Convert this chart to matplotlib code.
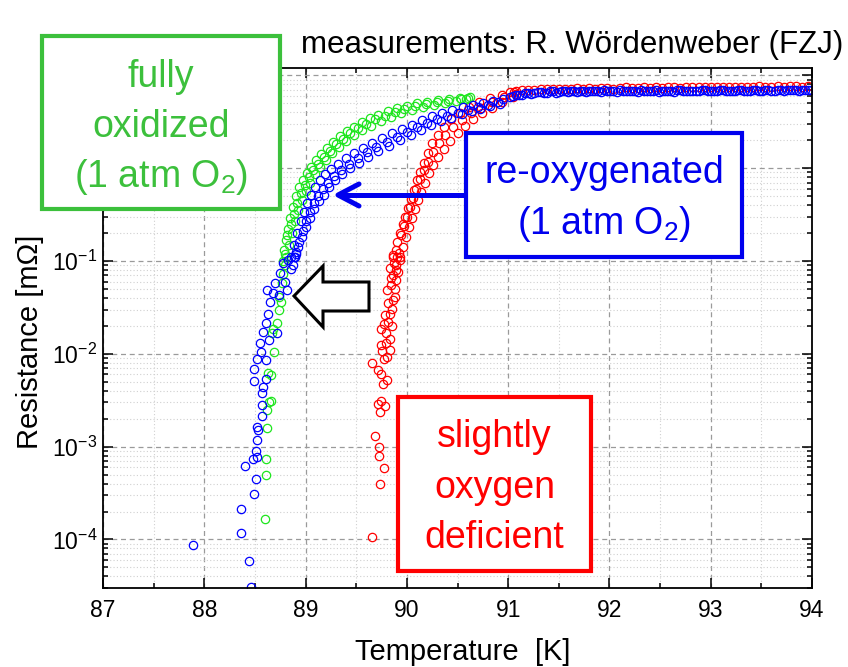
#!/usr/bin/env python3
"""
R(T) transitions: fully oxidized / re-oxygenated / slightly oxygen deficient.
"""
import math
import matplotlib
matplotlib.use("Agg")
import matplotlib.pyplot as plt
import matplotlib.ticker as mticker
from matplotlib.patches import Rectangle, Polygon
from matplotlib.lines import Line2D

W, H, DPI = 848, 667, 100

# ---- data: T [K], R [mOhm] ----
GREEN_TAIL_T = [88.60, 88.605, 88.614, 88.617, 88.62, 88.64, 88.66, 88.654, 88.63, 88.686,
                88.667, 88.68, 88.713, 88.74, 88.755, 88.74, 88.765, 88.778, 88.795, 88.78]
GREEN_TAIL_R = [1.66e-4, 5.0e-4, 7.3e-4, 1.58e-3, 2.5e-3, 3.0e-3, 3.1e-3, 5.9e-3, 6.2e-3, 1.05e-2,
                1.67e-2, 1.85e-2, 2.16e-2, 2.95e-2, 3.6e-2, 4.1e-2, 5.8e-2, 7.2e-2, 9.0e-2, 0.10]
GREEN_BAND_T = [88.79, 88.81, 88.83, 88.85, 88.88, 88.91, 88.94, 88.97, 89.01, 89.05, 89.10, 89.15,
                89.21, 89.27, 89.34, 89.41, 89.48, 89.56, 89.64, 89.72, 89.81, 89.90, 90.00, 90.10,
                90.20, 90.31, 90.42, 90.52, 90.62,
                88.81, 88.84, 88.87, 88.90, 88.93, 88.96, 89.00, 89.04, 89.09, 89.14, 89.20, 89.26,
                89.33, 89.40, 89.48, 89.56, 89.65, 89.74, 89.84, 89.94, 90.05, 90.16, 90.27, 90.38,
                90.49, 90.58,
                88.80, 88.82, 88.86, 88.89, 88.92, 88.95, 88.99, 89.03, 89.07, 89.12, 89.18, 89.24,
                89.30, 89.37, 89.44, 89.52, 89.60, 89.69, 89.78, 89.88, 89.97, 90.08, 90.19, 90.30,
                90.41, 90.53, 90.60]
GREEN_BAND_R = [0.13, 0.17, 0.22, 0.29, 0.38, 0.50, 0.62, 0.75, 0.89, 1.03, 1.22, 1.42,
                1.66, 1.92, 2.20, 2.50, 2.80, 3.12, 3.45, 3.78, 4.08, 4.40, 4.72, 4.98,
                5.18, 5.38, 5.55, 5.70, 5.82,
                0.11, 0.15, 0.20, 0.27, 0.35, 0.45, 0.57, 0.70, 0.86, 1.02, 1.22, 1.44,
                1.68, 1.95, 2.25, 2.55, 2.88, 3.22, 3.58, 3.92, 4.25, 4.55, 4.82, 5.08,
                5.30, 5.50,
                0.12, 0.19, 0.25, 0.32, 0.42, 0.54, 0.66, 0.80, 0.95, 1.12, 1.32, 1.55,
                1.80, 2.08, 2.38, 2.68, 3.00, 3.35, 3.68, 4.00, 4.32, 4.62, 4.88, 5.12,
                5.35, 5.58, 5.65]

BLUE_TAIL_T = [87.885, 88.443, 88.466, 88.361, 88.361, 88.489, 88.509, 88.40, 88.482, 88.522,
               88.509, 88.516, 88.532, 88.516, 88.565, 88.565, 88.565, 88.581, 88.489, 88.614,
               88.489, 88.522, 88.561, 88.614, 88.555, 88.581, 88.614, 88.64, 88.63, 88.647,
               88.624, 88.68, 88.696, 88.739, 88.719, 88.746, 88.795, 88.812, 88.778, 88.827,
               88.861, 88.884, 88.91]
BLUE_TAIL_R = [8.7e-5, 5.85e-5, 3.1e-5, 1.16e-4, 2.11e-4, 3.12e-4, 4.45e-4, 6.25e-4, 7.3e-4, 7.76e-4,
               9.0e-4, 1.19e-3, 1.5e-3, 1.63e-3, 2.14e-3, 2.8e-3, 3.8e-3, 4.4e-3, 5.1e-3, 5.3e-3,
               6.8e-3, 8.9e-3, 1.05e-2, 8.55e-3, 1.32e-2, 1.73e-2, 2.13e-2, 1.41e-2, 2.68e-2, 3.64e-2,
               4.86e-2, 4.49e-2, 5.74e-2, 4.3e-2, 1.66e-2, 7.36e-2, 5.98e-2, 4.86e-2, 9.4e-2, 0.1026,
               8.3e-2, 0.111, 0.126]
BLUE_BAND_T = [88.86, 88.89, 88.92, 88.95, 88.98, 89.01, 89.05, 89.09, 89.14, 89.19, 89.25, 89.32,
               89.40, 89.48, 89.57, 89.66, 89.75, 89.85, 89.95, 90.05, 90.15, 90.25, 90.35, 90.45,
               90.55, 90.65, 90.75, 90.85, 90.95,
               88.88, 88.91, 88.94, 88.97, 89.00, 89.04, 89.08, 89.12, 89.17, 89.22, 89.28, 89.35,
               89.43, 89.52, 89.61, 89.70, 89.80, 89.90, 90.00, 90.10, 90.20, 90.30, 90.40, 90.50,
               90.60, 90.70, 90.80, 90.90,
               88.90, 88.93, 88.96, 89.00, 89.04, 89.08, 89.13, 89.18, 89.23, 89.29, 89.36, 89.44,
               89.53, 89.62, 89.72, 89.82, 89.93, 90.04, 90.14, 90.24, 90.34, 90.44, 90.54, 90.64,
               90.72, 90.82, 90.92]
BLUE_BAND_R = [0.11, 0.15, 0.20, 0.27, 0.34, 0.42, 0.52, 0.62, 0.74, 0.86, 0.98, 1.12,
               1.28, 1.45, 1.66, 1.88, 2.10, 2.38, 2.65, 2.95, 3.30, 3.65, 3.95, 4.25,
               4.55, 4.80, 5.05, 5.30, 5.55,
               0.09, 0.12, 0.16, 0.21, 0.27, 0.34, 0.42, 0.50, 0.60, 0.70, 0.82, 0.95,
               1.10, 1.28, 1.48, 1.68, 1.92, 2.18, 2.45, 2.75, 3.05, 3.35, 3.65, 3.95,
               4.25, 4.55, 4.85, 5.10,
               0.11, 0.14, 0.18, 0.23, 0.29, 0.36, 0.44, 0.52, 0.62, 0.74, 0.86, 1.00,
               1.15, 1.32, 1.52, 1.75, 2.00, 2.30, 2.60, 2.90, 3.20, 3.50, 3.80, 4.10,
               4.35, 4.65, 4.95]
BLUE_TOP_T = [91.02, 91.08, 91.14, 91.20, 91.26, 91.32, 91.38, 91.44, 91.50, 91.56, 91.62, 91.68,
              91.74, 91.80, 91.86, 91.92, 91.98, 92.04, 92.10, 92.16, 92.22, 92.28, 92.34, 92.40,
              92.46, 92.52, 92.58, 92.64, 92.70, 92.76, 92.82, 92.88, 92.94, 93.00, 93.06, 93.12,
              93.18, 93.24, 93.30, 93.36, 93.42, 93.48, 93.54, 93.60, 93.66, 93.72, 93.78, 93.84,
              93.90, 93.96,
              91.05, 91.11, 91.17, 91.23, 91.29, 91.35, 91.41, 91.47, 91.53, 91.59, 91.65, 91.71,
              91.77, 91.83, 91.89, 91.95, 92.01, 92.07, 92.13, 92.19, 92.25, 92.31, 92.37, 92.43,
              92.49, 92.55, 92.61, 92.67, 92.73, 92.79, 92.85, 92.91, 92.97, 93.03, 93.09, 93.15,
              93.21, 93.27, 93.33, 93.39, 93.45, 93.51, 93.57, 93.63, 93.69, 93.75, 93.81, 93.87,
              93.93, 93.99]
BLUE_TOP_R = [5.9, 6.1, 6.2, 6.4, 6.4, 6.6, 6.5, 6.7, 6.6, 6.8, 6.7, 6.6, 6.8, 6.7, 6.8, 6.6,
              6.8, 6.7, 6.9, 6.7, 6.8, 6.6, 6.8, 6.7, 6.9, 6.7, 6.8, 6.6, 6.9, 6.7, 6.8, 6.7,
              6.9, 6.8, 6.7, 6.9, 6.7, 6.8, 6.9, 6.8, 6.9, 6.7, 6.9, 6.8, 7.0, 6.8, 6.9, 7.0,
              6.9, 7.0,
              6.0, 6.2, 6.4, 6.3, 6.6, 6.5, 6.7, 6.5, 6.7, 6.6, 6.8, 6.7, 6.6, 6.8, 6.7, 6.9,
              6.7, 6.6, 6.8, 6.7, 6.8, 6.9, 6.7, 6.8, 6.6, 6.8, 6.7, 6.9, 6.8, 6.7, 6.8, 6.9,
              6.7, 6.8, 6.9, 6.7, 6.8, 6.9, 6.8, 6.7, 6.9, 6.8, 6.9, 6.8, 6.9, 6.9, 7.0, 6.8,
              6.9, 7.0]

RED_TAIL_T = [89.66, 89.732, 89.774, 89.725, 89.725, 89.689, 89.732, 89.719, 89.78, 89.742,
              89.765, 89.804, 89.749, 89.715, 89.66, 89.774, 89.804, 89.752, 89.742, 89.837,
              89.791, 89.749, 89.814, 89.781, 89.857, 89.814, 89.88, 89.804, 89.847, 89.896,
              89.863, 89.912, 89.896, 89.929, 89.863, 89.922, 89.83, 89.87, 89.84, 89.88,
              89.86, 89.83, 89.85, 89.79, 89.83, 89.77, 89.90, 89.89]
RED_TAIL_R = [1.05e-4, 4.0e-4, 5.9e-4, 8.0e-4, 9.8e-4, 1.3e-3, 2.37e-3, 2.86e-3, 2.73e-3, 3.09e-3,
              4.71e-3, 5.2e-3, 6.0e-3, 6.7e-3, 8.0e-3, 8.9e-3, 9.3e-3, 1.08e-2, 1.24e-2, 1.43e-2,
              1.66e-2, 1.83e-2, 2.21e-2, 2.61e-2, 3.01e-2, 3.5e-2, 4.12e-2, 4.87e-2, 5.5e-2, 6.24e-2,
              7.06e-2, 7.67e-2, 9.06e-2, 0.1026, 0.116, 0.121, 0.085, 0.095, 0.065, 0.05,
              0.038, 0.027, 0.02, 0.013, 0.011, 0.021, 0.11, 0.08]
RED_BAND_T = [89.86, 89.90, 89.93, 89.96, 89.98, 90.01, 90.04, 90.07, 90.10, 90.13, 90.17, 90.21,
              90.25, 90.31, 90.37, 90.44, 90.52, 90.61, 90.71, 90.82, 90.94, 91.06,
              89.93, 89.96, 89.99, 90.02, 90.05, 90.08, 90.11, 90.14, 90.18, 90.22, 90.26, 90.31,
              90.37, 90.43, 90.50, 90.57, 90.65, 90.74, 90.84, 90.94, 91.05,
              89.89, 89.94, 89.97, 90.00, 90.03, 90.06, 90.09, 90.13, 90.17, 90.21, 90.26, 90.32,
              90.38, 90.46, 90.54, 90.63, 90.73, 90.84, 90.96, 91.08]
RED_BAND_R = [0.11, 0.16, 0.20, 0.25, 0.30, 0.37, 0.46, 0.58, 0.74, 0.92, 1.15, 1.45,
              1.85, 2.30, 2.80, 3.35, 3.95, 4.55, 5.15, 5.70, 6.20, 6.65,
              0.11, 0.14, 0.18, 0.23, 0.29, 0.36, 0.45, 0.56, 0.70, 0.88, 1.08, 1.32,
              1.62, 1.98, 2.40, 2.85, 3.35, 3.90, 4.50, 5.10, 5.90,
              0.13, 0.19, 0.24, 0.30, 0.38, 0.48, 0.60, 0.76, 0.95, 1.18, 1.48, 1.85,
              2.25, 2.75, 3.30, 3.90, 4.50, 5.15, 5.80, 6.35]
RED_TOP_T = [91.02, 91.08, 91.14, 91.20, 91.26, 91.32, 91.38, 91.44, 91.50, 91.56, 91.62, 91.68,
             91.74, 91.80, 91.86, 91.92, 91.98, 92.04, 92.10, 92.16, 92.22, 92.28, 92.34, 92.40,
             92.46, 92.52, 92.58, 92.64, 92.70, 92.76, 92.82, 92.88, 92.94, 93.00, 93.06, 93.12,
             93.18, 93.24, 93.30, 93.36, 93.42, 93.48, 93.54, 93.60, 93.66, 93.72, 93.78, 93.84,
             93.90, 93.96]
RED_TOP_R = [6.6, 6.8, 6.9, 7.0, 7.0, 7.1, 7.1, 7.2, 7.1, 7.2, 7.2, 7.3, 7.2, 7.3, 7.2, 7.3,
             7.3, 7.2, 7.3, 7.4, 7.3, 7.3, 7.4, 7.3, 7.4, 7.3, 7.4, 7.4, 7.3, 7.4, 7.5, 7.4,
             7.4, 7.5, 7.4, 7.5, 7.4, 7.5, 7.5, 7.4, 7.5, 7.6, 7.5, 7.5, 7.6, 7.5, 7.6, 7.6,
             7.5, 7.6]

C_RED, C_GREEN, C_BLUE = "#ff0000", "#1ee61e", "#0000ff"
C_GREEN_BOX, C_BLUE_BOX, C_RED_BOX = "#3cc03c", "#0000ee", "#ff0000"


def fx(x):
    return x / W


def fy(y):
    return 1 - y / H


def box(fig, x0, y0, x1, y1, color):
    fig.add_artist(Rectangle((fx(x0), fy(y1)), (x1 - x0) / W, (y1 - y0) / H,
                             transform=fig.transFigure, facecolor="white",
                             edgecolor=color, lw=3.0, joinstyle="miter", zorder=3))


def lines(fig, xc, baselines, texts, color, size=27):
    for yb, t in zip(baselines, texts):
        fig.text(fx(xc), fy(yb), t, color=color, fontsize=size,
                 ha="center", va="baseline", zorder=5)


def decade_label(v, _):
    # 10^0 and 10^1 sit under the green box in the original
    if v >= 1:
        return ""
    return r"$\mathregular{10^{%d}}$" % round(math.log10(v))


def main():
    plt.rcParams["font.family"] = ["Liberation Sans", "DejaVu Sans"]
    plt.rcParams["mathtext.fontset"] = "custom"
    plt.rcParams["mathtext.rm"] = "Liberation Sans"
    plt.rcParams["mathtext.it"] = "Liberation Sans:italic"

    fig = plt.figure(figsize=(W / DPI, H / DPI), dpi=DPI)
    ax = fig.add_axes([fx(103), fy(588), (812 - 103) / W, (588 - 68) / H])

    mk = dict(ls="none", marker="o", mfc="none", ms=6.0, mew=0.9)
    ax.plot(RED_TAIL_T, RED_TAIL_R, mec=C_RED, **mk)
    ax.plot(RED_BAND_T, RED_BAND_R, mec=C_RED, **mk)
    ax.plot(RED_TOP_T, RED_TOP_R, mec=C_RED, **mk)
    ax.plot(GREEN_TAIL_T, GREEN_TAIL_R, mec=C_GREEN, **mk)
    ax.plot(GREEN_BAND_T, GREEN_BAND_R, mec=C_GREEN, **mk)
    ax.plot(BLUE_TAIL_T, BLUE_TAIL_R, mec=C_BLUE, **mk)
    ax.plot(BLUE_BAND_T, BLUE_BAND_R, mec=C_BLUE, **mk)
    ax.plot(BLUE_TOP_T, BLUE_TOP_R, mec=C_BLUE, **mk)

    ax.set_yscale("log")
    ax.set_xlim(87, 94)
    ax.set_ylim(3e-5, 12)
    ax.xaxis.set_major_locator(mticker.MultipleLocator(1))
    ax.xaxis.set_minor_locator(mticker.MultipleLocator(0.5))
    ax.yaxis.set_major_locator(mticker.LogLocator(base=10, numticks=12))
    ax.yaxis.set_minor_locator(mticker.LogLocator(base=10, subs=range(2, 10), numticks=12))
    ax.yaxis.set_minor_formatter(mticker.NullFormatter())
    ax.yaxis.set_major_formatter(mticker.FuncFormatter(decade_label))

    ax.set_axisbelow(True)
    ax.grid(which="major", ls=(0, (4, 3)), color="#9a9a9a", lw=0.9)
    ax.grid(which="minor", ls=(0, (1, 2)), color="#d0d0d0", lw=0.8)
    ax.tick_params(which="both", direction="in", top=True, right=True, width=1.1)
    ax.tick_params(which="major", length=7)
    ax.tick_params(which="minor", length=3.5)
    for lab in ax.get_xticklabels():
        lab.set_fontsize(16.5)
    ax.tick_params(axis="x", labelsize=16.5, pad=8)
    ax.tick_params(axis="y", labelsize=16.5, pad=4)
    for s in ax.spines.values():
        s.set_linewidth(1.3)

    fig.text(fx(463), fy(652), "Temperature  [K]", fontsize=21, ha="center", va="center")
    fig.text(fx(30), fy(342), "Resistance [m\u03a9]", fontsize=21, rotation=90,
             ha="center", va="center")
    fig.text(fx(572), fy(53), "measurements: R. W\u00f6rdenweber (FZJ)", fontsize=22.5,
             ha="center", va="baseline")

    # annotation boxes
    box(fig, 42, 36, 280, 209, C_GREEN_BOX)
    lines(fig, 161, [87, 137, 187],
          ["fully", "oxidized", r"(1 atm O$_\mathregular{2}$)"], C_GREEN_BOX)
    box(fig, 466, 133, 742, 257, C_BLUE_BOX)
    lines(fig, 604, [183, 234], ["re-oxygenated", r"(1 atm O$_\mathregular{2}$)"], C_BLUE_BOX)
    box(fig, 398, 397, 591, 571, C_RED_BOX)
    lines(fig, 494.5, [447, 498, 548], ["slightly", "oxygen", "deficient"], C_RED_BOX)

    # blue arrow from re-oxygenated box
    fig.add_artist(Line2D([fx(466), fx(338)], [fy(195), fy(195)], transform=fig.transFigure,
                          color=C_BLUE_BOX, lw=3.6, solid_capstyle="butt", zorder=4))
    fig.add_artist(Line2D([fx(359), fx(338), fx(359)], [fy(184), fy(195), fy(206)],
                          transform=fig.transFigure, color=C_BLUE_BOX, lw=3.6,
                          solid_joinstyle="round", solid_capstyle="round", zorder=4))

    # hollow block arrow pointing to lower T
    pts = [(294, 296), (323, 266), (323, 282), (369, 282), (369, 311), (323, 311), (323, 327)]
    fig.add_artist(Polygon([(fx(x), fy(y)) for x, y in pts], closed=True,
                           transform=fig.transFigure, facecolor="white", edgecolor="black",
                           lw=2.2, joinstyle="miter", zorder=4))

    fig.savefig("out.png", dpi=DPI, facecolor="white")
    plt.close(fig)


if __name__ == "__main__":
    main()
